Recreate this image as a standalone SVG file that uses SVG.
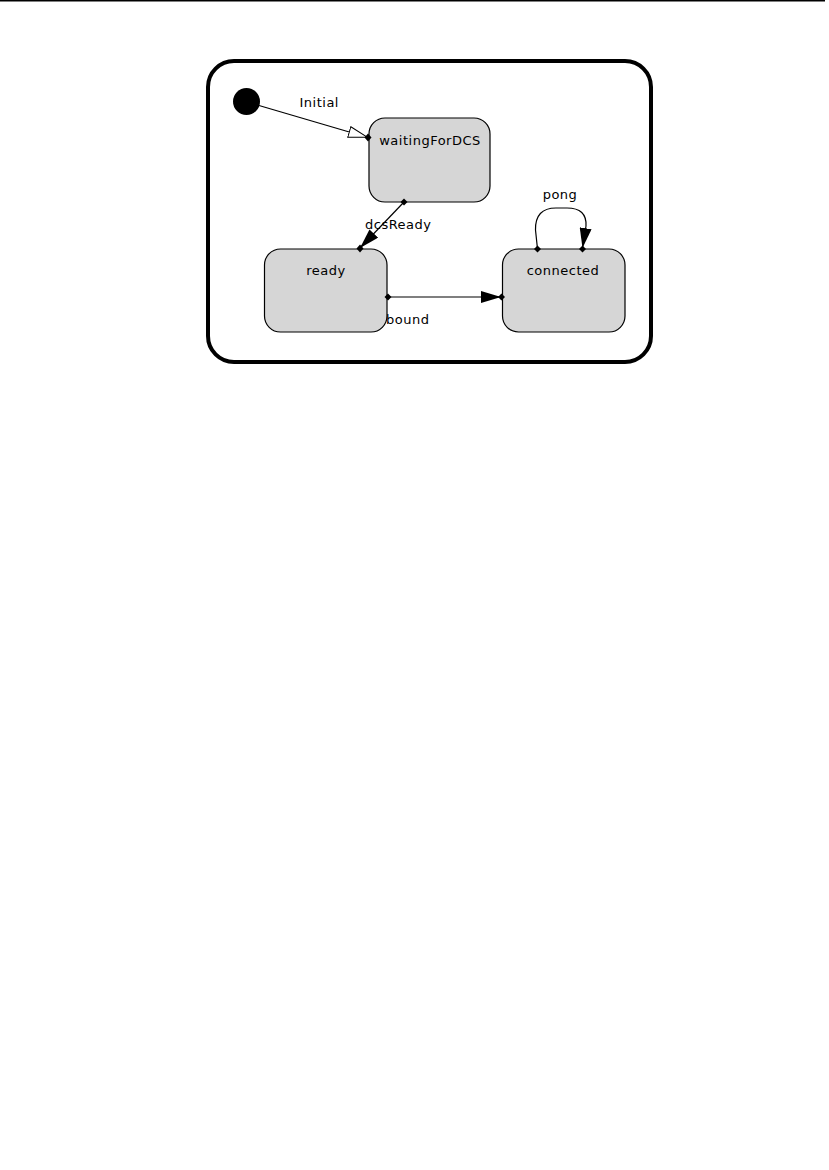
<svg xmlns="http://www.w3.org/2000/svg" width="829" height="1170" viewBox="0 0 829 1170">
<style>
.state{fill:#d6d6d6;stroke:#000;stroke-width:1.2}
.lbl{font-family:"DejaVu Sans",Verdana,sans-serif;font-size:13px;letter-spacing:0.5px;fill:#000}
.mid{text-anchor:middle}
.edge{fill:none;stroke:#000;stroke-width:1.2}
.dot{fill:#000}
</style>
<defs>
<marker id="hollow" viewBox="0 0 20 12" refX="20" refY="6" markerWidth="20" markerHeight="12" markerUnits="userSpaceOnUse" orient="auto">
<path d="M0.5,0.5 L19.5,6 L0.5,11.5 Z" fill="#fff" stroke="#000" stroke-width="1"/>
</marker>
<marker id="filled" viewBox="0 0 20 12" refX="20" refY="6" markerWidth="20" markerHeight="12" markerUnits="userSpaceOnUse" orient="auto">
<path d="M0,0 L20,6 L0,12 Z" fill="#000"/>
</marker>
</defs>
<rect width="829" height="1170" fill="#fff"/>
<line x1="0" y1="0.75" x2="825" y2="0.75" stroke="#000" stroke-width="1.5"/>
<g id="frame">
<rect x="208" y="61" width="443" height="301" rx="26" ry="26" fill="#fff" stroke="#000" stroke-width="4"/>
</g>
<g id="initial">
<circle cx="246.5" cy="101.5" r="13.5" fill="#000"/>
</g>
<g id="waitingForDCS">
<rect class="state" x="369" y="118" width="121" height="84" rx="16" ry="16"/>
<text class="lbl mid" x="430" y="145">waitingForDCS</text>
</g>
<g id="ready">
<rect class="state" x="264.5" y="249" width="122.5" height="83" rx="16" ry="16"/>
<text class="lbl mid" x="326" y="275">ready</text>
</g>
<g id="connected">
<rect class="state" x="502.5" y="249" width="122.5" height="83" rx="16" ry="16"/>
<text class="lbl mid" x="563" y="275">connected</text>
</g>
<g id="connectors">
<line class="edge" x1="259" y1="105.5" x2="368" y2="137.5" marker-end="url(#hollow)"/>
<text class="lbl" x="299.5" y="107">Initial</text>
<line class="edge" x1="404" y1="202" x2="360" y2="248" marker-end="url(#filled)"/>
<text class="lbl" x="365" y="228.5">dcsReady</text>
<line class="edge" x1="387" y1="297" x2="501" y2="297" marker-end="url(#filled)"/>
<text class="lbl" x="386" y="324">bound</text>
<path class="edge" d="M537.5,249 L535.5,230 Q535,208 556,208 L567,208 Q587,208 586,226 L582.5,248" marker-end="url(#filled)"/>
<text class="lbl mid" x="560" y="199">pong</text>
<g class="dot">
<path d="M368,133.5 L371.5,137.5 L368,141.5 L364.5,137.5 Z"/>
<path d="M404,198.5 L407.5,202 L404,205.5 L400.5,202 Z"/>
<path d="M360,244.5 L363.5,248.5 L360,252.5 L356.5,248.5 Z"/>
<path d="M388,293.5 L391.5,297 L388,300.5 L384.5,297 Z"/>
<path d="M501.5,293.5 L505,297 L501.5,300.5 L498,297 Z"/>
<path d="M537.5,245.5 L541,249 L537.5,252.5 L534,249 Z"/>
<path d="M582.5,245.5 L586,249 L582.5,252.5 L579,249 Z"/>
</g>
</g>
</svg>
